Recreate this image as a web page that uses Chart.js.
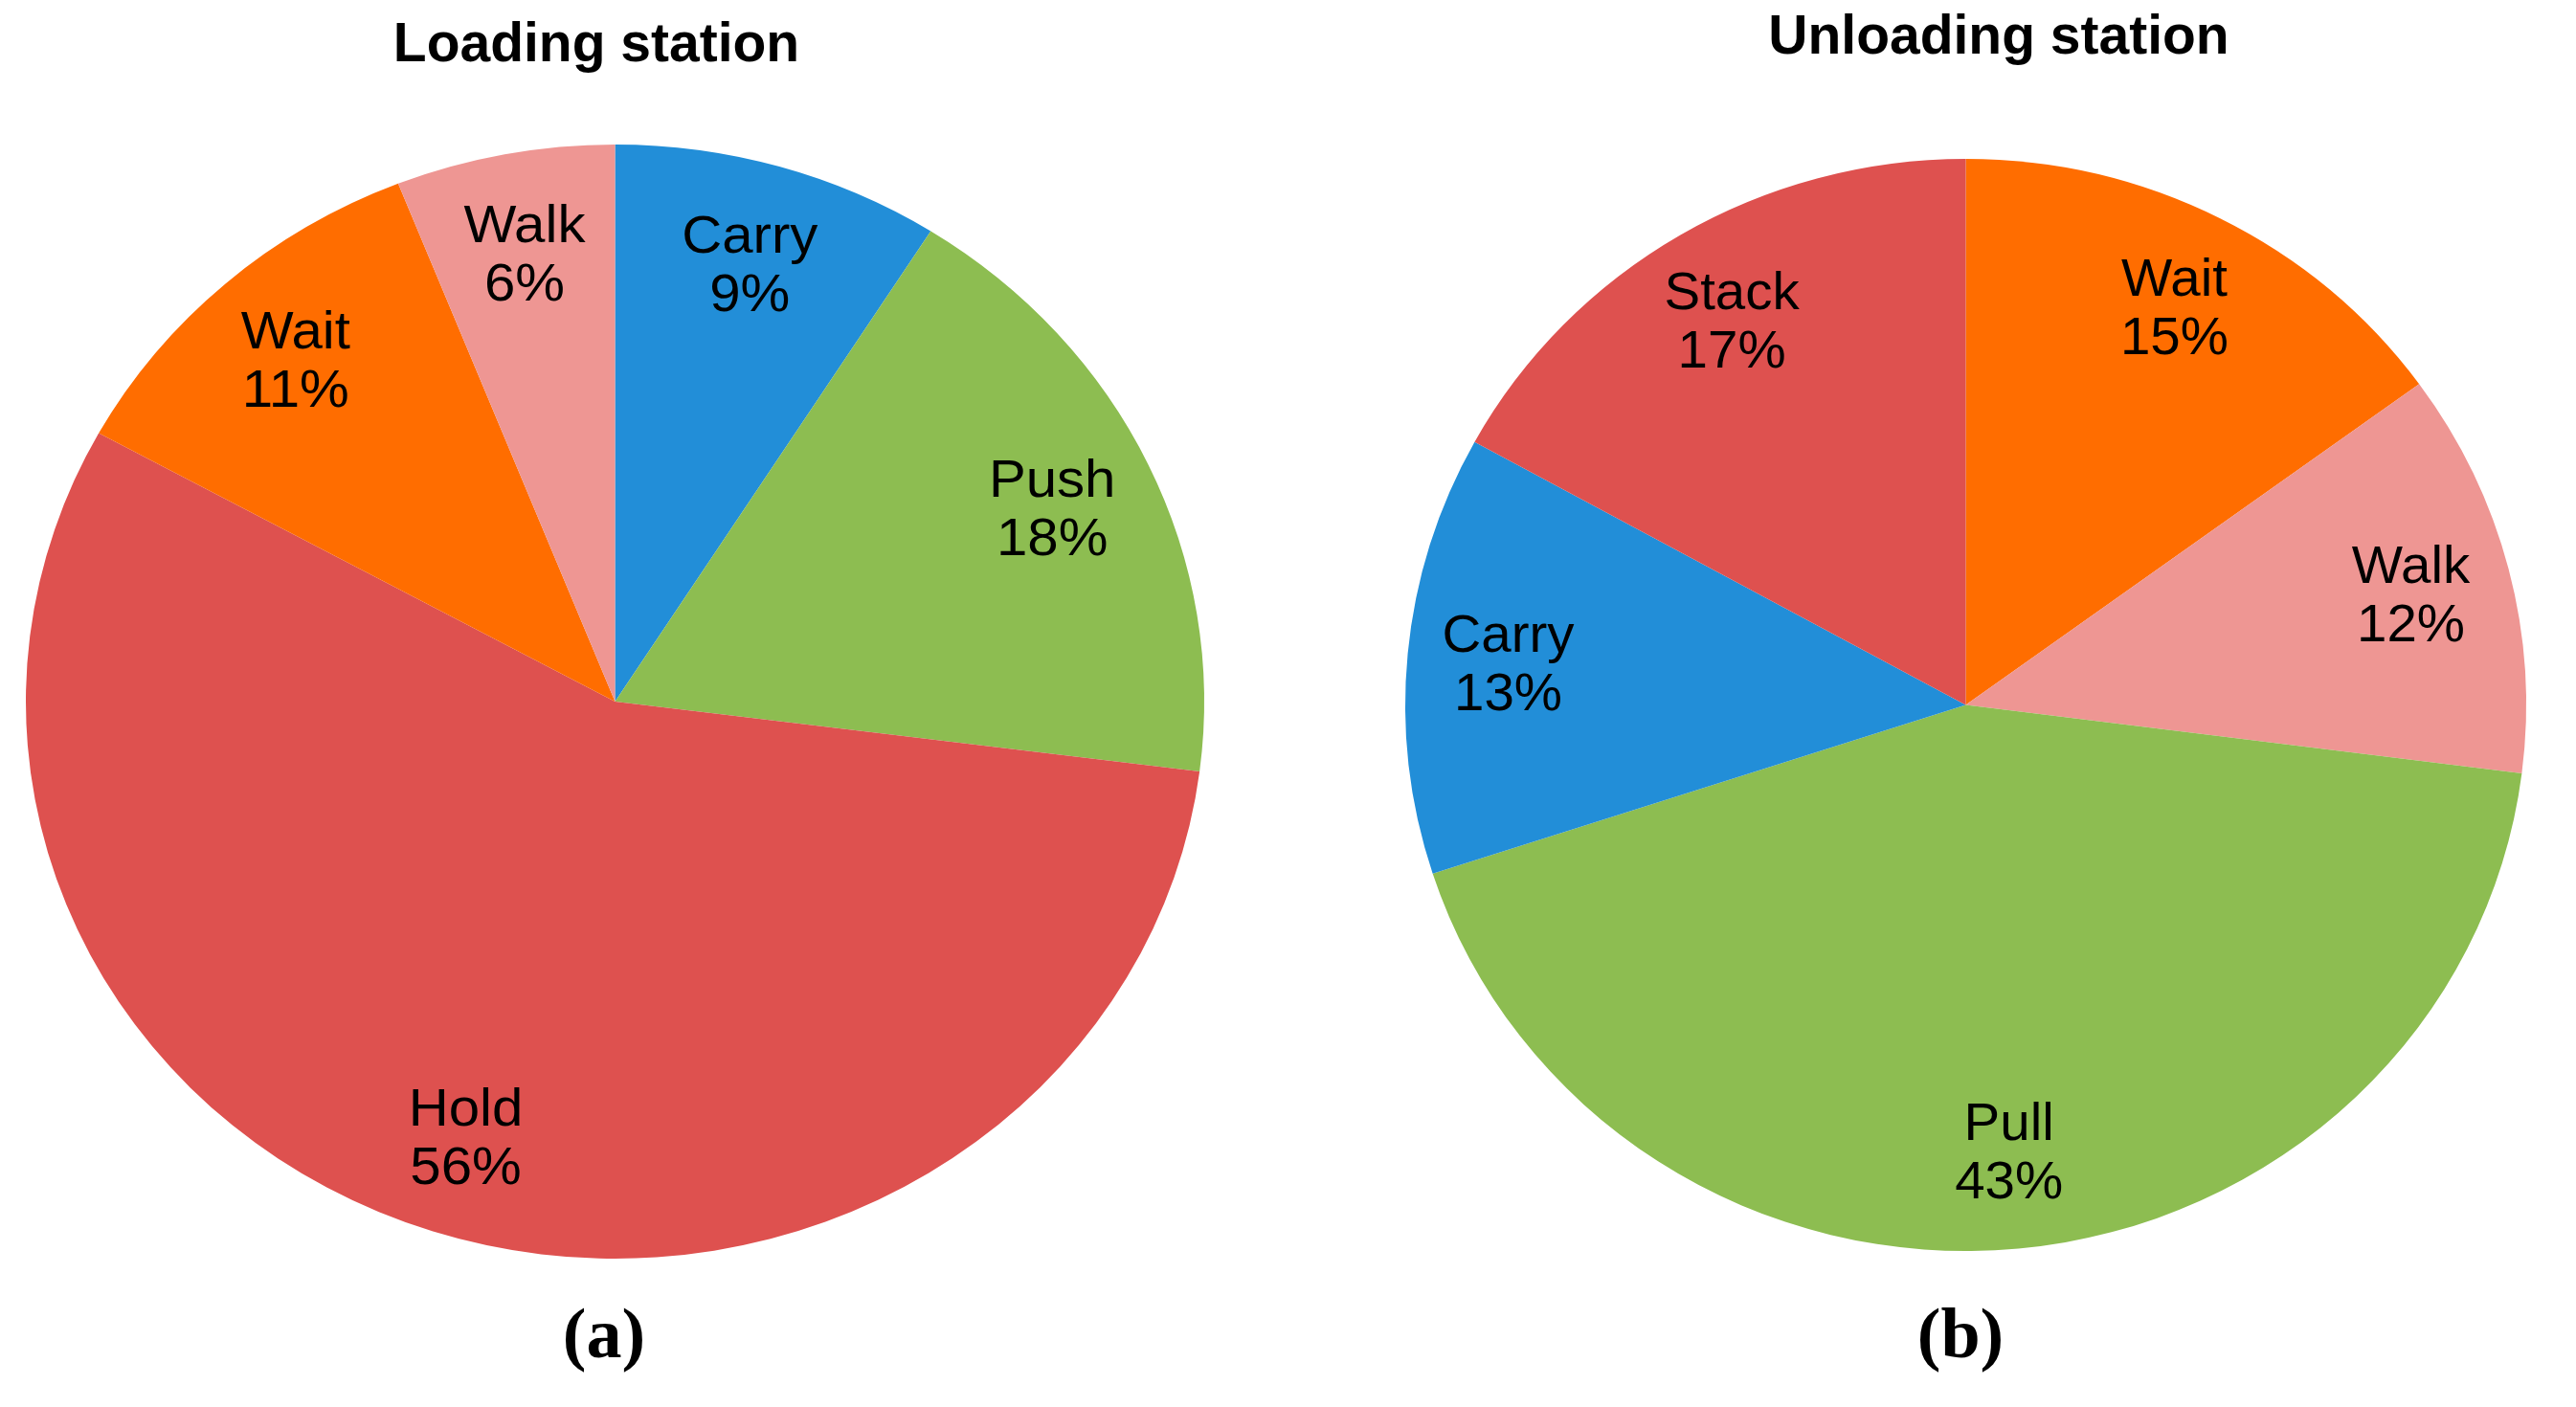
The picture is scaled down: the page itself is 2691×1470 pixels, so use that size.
<!DOCTYPE html>
<html>
<head>
<meta charset="utf-8">
<script src="https://cdn.jsdelivr.net/npm/chart.js@4.4.1/dist/chart.umd.min.js"></script>
<style>
    html, body { margin: 0; padding: 0; background: #fff; }
    body { width: 2691px; height: 1470px; position: relative; overflow: hidden; }
    canvas { position: absolute; left: 0; top: 0; }
</style>
</head>
<body>
<canvas id="loading_chart" width="2691" height="1470"></canvas>
<canvas id="unloading_chart" width="2691" height="1470"></canvas>

<script>
// activity shares (percent)
const loadingLabels   = ['Carry', 'Push', 'Hold', 'Wait', 'Walk']
const loadingValues   = [9, 18, 56, 11, 6]

const unloadingLabels = ['Wait', 'Walk', 'Pull', 'Carry', 'Stack']
const unloadingValues = [15, 12, 43, 13, 17]

const activityColors = {
    Carry: '#228ED8',
    Push:  '#8DBD51',
    Pull:  '#8DBD51',
    Hold:  '#DE514F',
    Stack: '#DE514F',
    Wait:  '#FF6D00',
    Walk:  '#EE9693'
}

const SANS  = '"Liberation Sans", Arial, Helvetica, sans-serif'
const SERIF = '"Liberation Serif", "Times New Roman", serif'

// the original pies are slightly oval, so the arcs are drawn through a scale
const ovalPie = {
    id: 'ovalPie',
    beforeDatasetsDraw(chart, args, opts) {
        const arc = chart.getDatasetMeta(0).data[0]
        const ctx = chart.ctx
        ctx.save()
        ctx.translate(opts.cx, opts.cy)
        ctx.scale(opts.rx / arc.outerRadius, opts.ry / arc.outerRadius)
        ctx.translate(-arc.x, -arc.y)
    },
    afterDatasetsDraw(chart, args, opts) {
        const ctx = chart.ctx
        ctx.restore()

        const labels = chart.data.labels
        const values = chart.data.datasets[0].data
        const stretch = opts.rx / opts.ry

        ctx.save()
        ctx.fillStyle = '#000'
        ctx.textAlign = 'center'
        ctx.textBaseline = 'alphabetic'
        ctx.font = '55px ' + SANS
        chart.getDatasetMeta(0).data.forEach((arc, i) => {
            const mid = (arc.startAngle + arc.endAngle) / 2
            const x = opts.cx + opts.labelAt * opts.rx * Math.cos(mid)
            const y = opts.cy + opts.labelAt * opts.ry * Math.sin(mid)
            ctx.save()
            ctx.translate(x, y)
            ctx.scale(stretch, 1)
            ctx.fillText(labels[i], 0, -11)
            ctx.fillText(values[i] + '%', 0, 50)
            ctx.restore()
        })

        ctx.font = 'bold 74px ' + SERIF
        ctx.fillText(opts.caption, opts.capX, opts.capY)
        ctx.restore()
    }
}

function buildPie(id, title, labels, values, place){
    const canvas = document.getElementById(id)
    return new Chart(canvas, {
        type: 'pie',
        data: {
            labels: labels,
            datasets: [{
                data: values,
                backgroundColor: labels.map(l => activityColors[l]),
                borderWidth: 0,
                hoverOffset: 0,
                offset: 0
            }]
        },
        plugins: [ovalPie],
        options: {
            responsive: false,
            devicePixelRatio: 1,
            animation: false,
            events: [],
            layout: {
                padding: place.padding
            },
            plugins: {
                legend: { display: false },
                tooltip: { enabled: false },
                title: {
                    display: true,
                    text: title,
                    color: '#000',
                    font: { family: SANS, size: 57, weight: 'bold' },
                    padding: { top: place.titleTop, bottom: 60 }
                },
                ovalPie: place.pie
            }
        }
    })
}

buildPie('loading_chart', 'Loading station', loadingLabels, loadingValues, {
    padding: { left: 0, right: 1445, top: 0, bottom: 120 },
    titleTop: 14,
    pie: { cx: 642.5, cy: 733, rx: 615.5, ry: 582, labelAt: 0.82,
           caption: '(a)', capX: 631, capY: 1418 }
})

buildPie('unloading_chart', 'Unloading station', unloadingLabels, unloadingValues, {
    padding: { left: 1485, right: 0, top: 0, bottom: 120 },
    titleTop: 6,
    pie: { cx: 2053.5, cy: 736.5, rx: 585.5, ry: 570.5, labelAt: 0.82,
           caption: '(b)', capX: 2048, capY: 1418 }
})
</script>
</body>
</html>
